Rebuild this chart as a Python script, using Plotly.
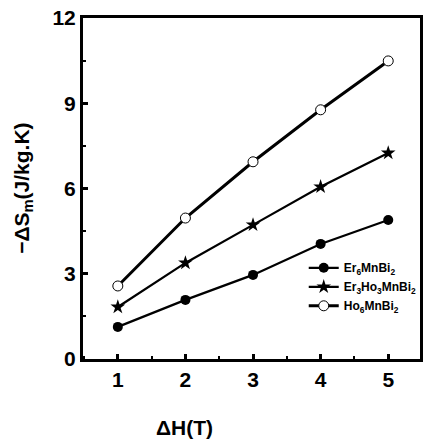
import plotly.graph_objects as go

field = [1, 2, 3, 4, 5]
er6 = [1.13, 2.08, 2.96, 4.05, 4.89]
er3ho3 = [1.83, 3.38, 4.72, 6.06, 7.25]
ho6 = [2.57, 4.96, 6.94, 8.77, 10.49]

x_ticks = [1, 2, 3, 4, 5]
y_ticks = [0, 3, 6, 9, 12]

names = ["<b>Er<sub>6</sub>MnBi<sub>2</sub></b>",
         "<b>Er<sub>3</sub>Ho<sub>3</sub>MnBi<sub>2</sub></b>",
         "<b>Ho<sub>6</sub>MnBi<sub>2</sub></b>"]

FONT = "Liberation Sans, Arial, sans-serif"

fig = go.Figure()
fig.add_trace(go.Scatter(x=field, y=er6, name=names[0], mode="lines+markers",
                         line=dict(color="black", width=2.2),
                         marker=dict(symbol="circle", size=10, color="black")))
fig.add_trace(go.Scatter(x=field, y=er3ho3, name=names[1], mode="lines+markers",
                         line=dict(color="black", width=2.2),
                         marker=dict(symbol="star", size=11, color="black")))
fig.add_trace(go.Scatter(x=field, y=ho6, name=names[2], mode="lines+markers",
                         line=dict(color="black", width=3),
                         marker=dict(symbol="circle", size=10, color="white",
                                     line=dict(color="black", width=1))))

fig.update_layout(
    width=423, height=442,
    margin=dict(l=83, r=1, t=18, b=83),
    paper_bgcolor="white", plot_bgcolor="white",
    font=dict(family=FONT, color="black"),
    showlegend=True,
    legend=dict(x=0.655, y=0.31, xanchor="left", yanchor="top",
                font=dict(size=12, family=FONT),
                bgcolor="rgba(0,0,0,0)", itemwidth=30),
    annotations=[
        dict(text="<b>ΔH(T)</b>", xref="paper", yref="paper",
             x=0.30, y=-0.2, xanchor="center", yanchor="middle",
             showarrow=False, font=dict(size=21, family=FONT)),
        dict(text="<b>−ΔS<sub>m</sub>(J/kg.K)</b>", xref="paper", yref="paper",
             x=-0.18, y=0.5, xanchor="center", yanchor="middle", textangle=-90,
             showarrow=False, font=dict(size=21, family=FONT)),
    ],
)

fig.update_xaxes(range=[0.485, 5.47], tickvals=x_ticks,
                 ticktext=[f"<b>{v}</b>" for v in x_ticks],
                 showgrid=False, zeroline=False,
                 showline=True, linewidth=3, linecolor="black", mirror=True,
                 ticks="inside", ticklen=5, tickwidth=2.5, tickcolor="black",
                 minor=dict(ticks="inside", ticklen=3, tickwidth=2, dtick=0.5,
                            tick0=0.5, tickcolor="black"),
                 tickfont=dict(size=21, family=FONT))
fig.update_yaxes(range=[0, 12], tickvals=y_ticks,
                 ticktext=[f"<b>{v}</b>" for v in y_ticks],
                 showgrid=False, zeroline=False,
                 showline=True, linewidth=3, linecolor="black", mirror=True,
                 ticks="inside", ticklen=5, tickwidth=2.5, tickcolor="black",
                 minor=dict(ticks="inside", ticklen=3, tickwidth=2, dtick=1.5,
                            tick0=0, tickcolor="black"),
                 tickfont=dict(size=21, family=FONT))

fig.write_html("out.html")
